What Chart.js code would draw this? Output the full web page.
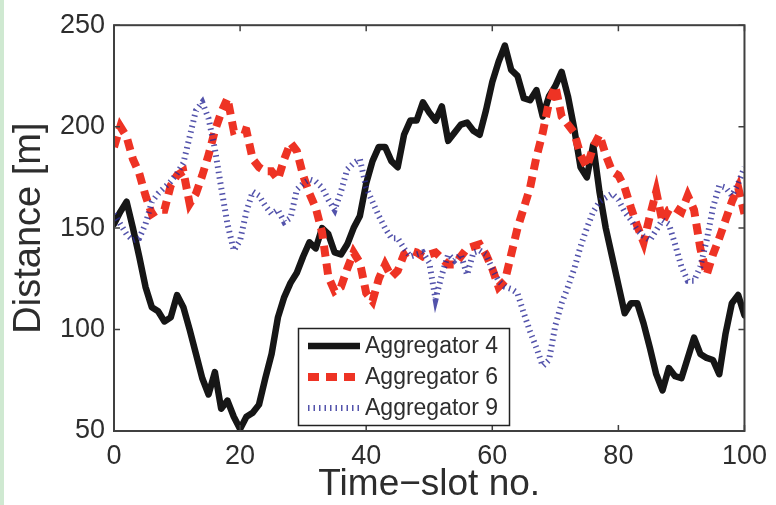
<!DOCTYPE html>
<html>
<head>
<meta charset="utf-8">
<script src="https://cdn.jsdelivr.net/npm/chart.js@4.4.1/dist/chart.umd.min.js"></script>
<style>
    html, body { margin: 0; padding: 0; }
    body {
        width: 776px;
        height: 505px;
        overflow: hidden;
        background: linear-gradient(to right, #cfe9d1 0, #cfe9d1 4px, #ffffff 4px);
    }
    canvas { display: block; }
</style>
</head>
<body>
<canvas id="chart" width="776" height="505"></canvas>
<script>
// Time slots (x categories)
var timeSlots = [0,1,2,3,4,5,6,7,8,9,10,11,12,13,14,15,16,17,18,19,20,21,22,23,24,25,26,27,28,29,30,31,32,33,34,35,36,37,38,39,40,41,42,43,44,45,46,47,48,49,50,51,52,53,54,55,56,57,58,59,60,61,62,63,64,65,66,67,68,69,70,71,72,73,74,75,76,77,78,79,80,81,82,83,84,85,86,87,88,89,90,91,92,93,94,95,96,97,98,99,100];

// Distance [m] per aggregator
var agg4 = [152,158,163,150,136,121,111,109,104,106,
            117,111,100,88,76,68,79,61,65,57,
            51,57,59,63,76,88,106,116,123,128,
            136,143,140,150,147,138,137,142,150,156,
            172,183,190,190,183,180,196,203,203,212,
            207,203,210,193,197,201,202,198,196,208,
            222,232,240,228,225,214,213,218,205,215,
            220,227,215,199,180,175,191,168,150,136,
            122,108,113,113,103,91,78,70,81,77,
            76,86,96,88,86,85,78,98,113,117,
            107];

var agg6 = [190,200,195,184,177,166,157,159,159,171,
            176,178,162,167,176,186,198,207,214,198,
            199,198,184,180,178,178,174,184,192,188,
            176,167,160,148,126,119,121,130,138,133,
            118,114,125,132,126,129,137,139,138,136,
            137,138,135,132,132,136,140,141,142,137,
            130,121,124,137,150,160,170,185,197,212,
            220,205,201,197,186,180,190,196,186,178,
            176,170,160,151,143,156,168,153,159,160,
            158,166,159,140,127,137,145,154,163,170,
            157];

var agg9 = [157,152,147,144,145,152,163,167,170,173,
            177,182,195,208,212,204,189,170,152,139,
            144,158,168,166,161,157,159,153,155,169,
            172,174,173,170,164,159,168,179,182,184,
            170,163,156,150,145,145,140,136,137,138,
            133,115,127,137,134,137,127,138,139,137,
            130,124,121,120,118,108,99,91,82,85,
            102,113,121,130,141,150,158,163,165,167,
            164,158,154,149,146,144,149,154,152,142,
            131,124,124,131,144,160,171,170,166,172,
            180];

// Tick labels
var xTicks = [0, 20, 40, 60, 80, 100];
var yTicks = [50, 100, 150, 200, 250];

var FONT = '"Liberation Sans", Arial, Helvetica, sans-serif';
var TEXT = '#2d2d2d';
var FRAME = '#404040';

function toPoints(values) {
    return values.map(function(v, i) {
        return { x: timeSlots[i], y: v };
    });
}

// MATLAB-style box with inward ticks on all four sides
var framePlugin = {
    id: 'frame',
    afterDatasetsDraw: function(chart) {
        var ctx = chart.ctx;
        var a = chart.chartArea;
        var xs = chart.scales.x;
        var ys = chart.scales.y;
        var len = 6;
        ctx.save();
        ctx.strokeStyle = FRAME;
        ctx.lineWidth = 2;
        ctx.strokeRect(a.left, a.top, a.right - a.left, a.bottom - a.top);
        ctx.lineWidth = 1.5;
        ctx.beginPath();
        xTicks.forEach(function(v) {
            var px = xs.getPixelForValue(v);
            ctx.moveTo(px, a.bottom); ctx.lineTo(px, a.bottom - len);
            ctx.moveTo(px, a.top); ctx.lineTo(px, a.top + len);
        });
        yTicks.forEach(function(v) {
            var py = ys.getPixelForValue(v);
            ctx.moveTo(a.left, py); ctx.lineTo(a.left + len, py);
            ctx.moveTo(a.right, py); ctx.lineTo(a.right - len, py);
        });
        ctx.stroke();
        ctx.restore();
    }
};

// Legend box inside the plot
var legendPlugin = {
    id: 'boxLegend',
    afterDraw: function(chart) {
        var ctx = chart.ctx;
        var box = { x: 298.5, y: 328.5, w: 211, h: 97 };
        var rows = [346, 377, 408];
        ctx.save();
        ctx.fillStyle = '#ffffff';
        ctx.fillRect(box.x, box.y, box.w, box.h);
        ctx.strokeStyle = '#222222';
        ctx.lineWidth = 1.5;
        ctx.strokeRect(box.x, box.y, box.w, box.h);
        chart.data.datasets.forEach(function(ds, i) {
            ctx.save();
            ctx.strokeStyle = ds.borderColor;
            ctx.lineWidth = ds.borderWidth;
            ctx.lineCap = 'butt';
            ctx.setLineDash(ds.borderDash || []);
            ctx.beginPath();
            ctx.moveTo(308, rows[i]);
            ctx.lineTo(360, rows[i]);
            ctx.stroke();
            ctx.restore();
            ctx.fillStyle = TEXT;
            ctx.font = '23px ' + FONT;
            ctx.textBaseline = 'middle';
            ctx.textAlign = 'left';
            ctx.fillText(ds.label, 365, rows[i] + 1);
        });
        ctx.restore();
    }
};

var ctx = document.getElementById('chart').getContext('2d');
var chart = new Chart(ctx, {
    type: 'line',
    data: {
        datasets: [
            {
                label: 'Aggregator 4',
                data: toPoints(agg4),
                borderColor: '#161616',
                borderWidth: 6.5,
                borderDash: [],
                borderJoinStyle: 'round',
                borderCapStyle: 'round',
                order: 3
            },
            {
                label: 'Aggregator 6',
                data: toPoints(agg6),
                borderColor: '#ee3324',
                borderWidth: 8,
                borderDash: [11, 7],
                borderJoinStyle: 'miter',
                borderCapStyle: 'butt',
                order: 2
            },
            {
                label: 'Aggregator 9',
                data: toPoints(agg9),
                borderColor: 'rgba(40,40,150,0.8)',
                borderWidth: 6,
                borderDash: [1.5, 4],
                borderJoinStyle: 'miter',
                borderCapStyle: 'butt',
                order: 1
            }
        ]
    },
    options: {
        responsive: false,
        animation: false,
        devicePixelRatio: 1,
        layout: { padding: { top: 21, right: 24, left: 0, bottom: 0 } },
        elements: {
            point: { radius: 0, hoverRadius: 0 },
            line: { tension: 0, fill: false }
        },
        plugins: {
            legend: { display: false },
            tooltip: { enabled: false }
        },
        scales: {
            x: {
                type: 'linear',
                min: 0,
                max: 100,
                afterBuildTicks: function(scale) {
                    scale.ticks = xTicks.map(function(v) { return { value: v }; });
                },
                afterFit: function(scale) { scale.height = 74; },
                grid: { display: false, drawTicks: false },
                border: { display: false },
                ticks: {
                    color: TEXT,
                    font: { family: FONT, size: 27 },
                    padding: 9,
                    maxRotation: 0,
                    autoSkip: false
                },
                title: {
                    display: true,
                    text: 'Time\u2212slot no.',
                    color: TEXT,
                    font: { family: FONT, size: 37, lineHeight: 1 },
                    padding: { top: 0, bottom: 1.5 }
                }
            },
            y: {
                type: 'linear',
                min: 50,
                max: 250,
                afterBuildTicks: function(scale) {
                    scale.ticks = yTicks.map(function(v) { return { value: v }; });
                },
                afterFit: function(scale) { scale.width = 114; },
                grid: { display: false, drawTicks: false },
                border: { display: false },
                ticks: {
                    color: TEXT,
                    font: { family: FONT, size: 27 },
                    padding: 9,
                    autoSkip: false
                },
                title: {
                    display: true,
                    text: 'Distance [m]',
                    color: TEXT,
                    font: { family: FONT, size: 38, lineHeight: 1 },
                    padding: { top: 11, bottom: 0 }
                }
            }
        }
    },
    plugins: [framePlugin, legendPlugin]
});
</script>
</body>
</html>
